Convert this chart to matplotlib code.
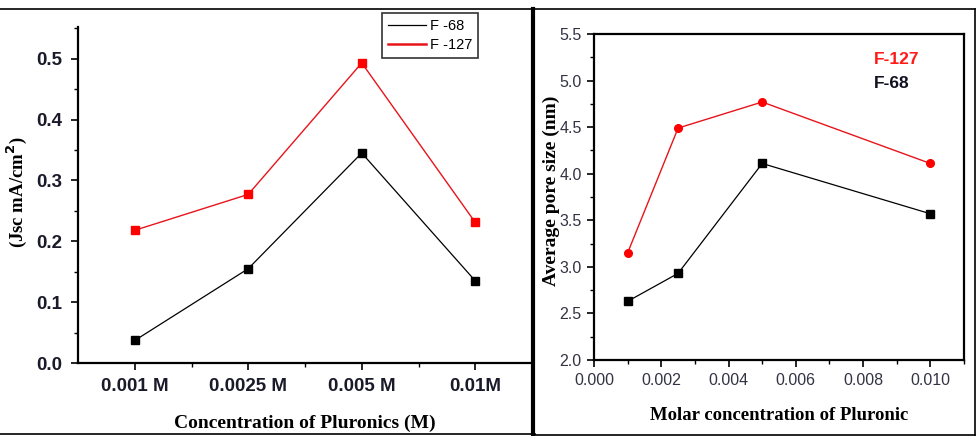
import matplotlib
matplotlib.use("Agg")
import matplotlib.pyplot as plt
from matplotlib.lines import Line2D
from matplotlib.ticker import MultipleLocator, FormatStrFormatter

# Left panel data
categories = ["0.001 M", "0.0025 M", "0.005 M", "0.01M"]
jsc_f68 = [0.037, 0.155, 0.345, 0.135]
jsc_f127 = [0.218, 0.277, 0.493, 0.231]

# Right panel data
molar_conc = [0.001, 0.0025, 0.005, 0.010]
pore_f127 = [3.15, 4.49, 4.77, 4.11]
pore_f68 = [2.63, 2.93, 4.11, 3.57]

W, H = 978, 436
fig = plt.figure(figsize=(W / 100, H / 100), dpi=100)

def fx(px):
    return px / W

def fy(py):
    return 1 - py / H

# ---------------- Left panel ----------------
L0, L1, T0, B0 = 78, 532, 27, 363
ax1 = fig.add_axes([fx(L0), fy(B0), fx(L1) - fx(L0), fy(T0) - fy(B0)])
xs = list(range(len(categories)))
ax1.plot(xs, jsc_f68, color="black", lw=0.9, marker="s", ms=5.5, label="F -68")
ax1.plot(xs, jsc_f127, color="#e8141b", lw=1.0, marker="s", ms=5.5,
         mfc="#ff0000", mec="#ff0000", label="F -127")
ax1.set_xlim(-0.5, 3.5)
ax1.set_ylim(0, 0.552)
ax1.set_xticks(xs)
ax1.set_xticklabels(categories)
ax1.set_xticks([0.5, 1.5, 2.5], minor=True)
ax1.yaxis.set_major_locator(MultipleLocator(0.1))
ax1.yaxis.set_minor_locator(MultipleLocator(0.05))
ax1.spines["top"].set_visible(False)
ax1.spines["right"].set_visible(False)
for s in ("left", "bottom"):
    ax1.spines[s].set_linewidth(1.6)
ax1.tick_params(axis="both", which="major", direction="out", length=5, width=1.2,
                labelsize=13.5, pad=6)
ax1.tick_params(axis="both", which="minor", direction="out", length=3, width=1.0)
for lbl in ax1.get_xticklabels() + ax1.get_yticklabels():
    lbl.set_fontweight("bold")
    lbl.set_family("Liberation Sans")
    lbl.set_color("#1a1a2a")
ax1.set_xlabel("Concentration of Pluronics (M)", family="Liberation Serif",
               fontweight="bold", fontsize=14, labelpad=14)
ax1.set_ylabel("(Jsc mA/cm$^\\mathbf{2}$)", family="Liberation Serif",
               fontweight="bold", fontsize=13.5)
ax1.yaxis.label.set_va("center")
ax1.yaxis.label.set_ha("center")
ax1.yaxis.set_label_coords((17 - L0) / (L1 - L0), (B0 - 192) / (B0 - T0))

aw = L1 - L0
ah = B0 - T0
leg = ax1.legend(loc="upper right",
                 bbox_to_anchor=((478 - L0) / aw, (B0 - 13) / ah),
                 borderaxespad=0,
                 frameon=True, fancybox=False, edgecolor="black",
                 handlelength=2.6, handletextpad=0.25, borderpad=0.4,
                 labelspacing=0.35, prop={"family": "Liberation Sans", "size": 10.5})
leg.get_frame().set_linewidth(1.2)
for h in leg.legend_handles:
    h.set_marker("")
leg.legend_handles[1].set_linewidth(1.8)

# ---------------- Right panel ----------------
R0, R1, RT, RB = 594, 964, 34, 360
ax2 = fig.add_axes([fx(R0), fy(RB), fx(R1) - fx(R0), fy(RT) - fy(RB)])
ax2.plot(molar_conc, pore_f127, color="#e8141b", lw=1.0, marker="o", ms=5.5,
         mfc="#ff0000", mec="#ff0000")
ax2.plot(molar_conc, pore_f68, color="black", lw=0.9, marker="s", ms=5.5)
ax2.set_xlim(0, 0.011)
ax2.set_ylim(2.0, 5.5)
ax2.xaxis.set_major_locator(MultipleLocator(0.002))
ax2.xaxis.set_minor_locator(MultipleLocator(0.001))
ax2.yaxis.set_major_locator(MultipleLocator(0.5))
ax2.yaxis.set_minor_locator(MultipleLocator(0.25))
ax2.xaxis.set_major_formatter(FormatStrFormatter("%.3f"))
ax2.yaxis.set_major_formatter(FormatStrFormatter("%.1f"))
for s in ax2.spines.values():
    s.set_linewidth(1.6)
ax2.tick_params(axis="both", which="major", direction="out", length=5, width=1.2,
                labelsize=11.5, labelcolor="#333344", pad=4)
ax2.tick_params(axis="both", which="minor", direction="out", length=3, width=1.0)
for lbl in ax2.get_xticklabels() + ax2.get_yticklabels():
    lbl.set_family("Liberation Sans")
ax2.set_xlabel("Molar concentration of Pluronic", family="Liberation Serif",
               fontweight="bold", fontsize=13.5, labelpad=14)
ax2.set_ylabel("Average pore size (nm)", family="Liberation Serif",
               fontweight="bold", fontsize=14)
ax2.yaxis.label.set_va("center")
ax2.yaxis.label.set_ha("center")
ax2.yaxis.set_label_coords((551 - R0) / (R1 - R0), (RB - 191) / (RB - RT))
ax2.text((874 - R0) / (R1 - R0), (RB - 60) / (RB - RT), "F-127", transform=ax2.transAxes,
         color="#ff1a1a", fontweight="bold", fontsize=12.5, family="Liberation Sans",
         va="center")
ax2.text((874 - R0) / (R1 - R0), (RB - 84) / (RB - RT), "F-68", transform=ax2.transAxes,
         color="#111122", fontweight="bold", fontsize=12.5, family="Liberation Sans",
         va="center")

# ---------------- Frame lines ----------------
frame_lines = [
    ([0, fx(975)], [fy(9), fy(9)], 1.2),
    ([0, fx(535)], [fy(434), fy(434)], 1.2),
    ([fx(533.5), fx(533.5)], [fy(9), fy(436)], 3.0),
    ([fx(533), fx(975)], [fy(435), fy(435)], 1.2),
    ([fx(975), fx(975)], [fy(9), fy(435)], 1.2),
]
for xd, yd, lw in frame_lines:
    fig.add_artist(Line2D(xd, yd, color="black", lw=lw, transform=fig.transFigure))

fig.savefig("out.png", dpi=100)
